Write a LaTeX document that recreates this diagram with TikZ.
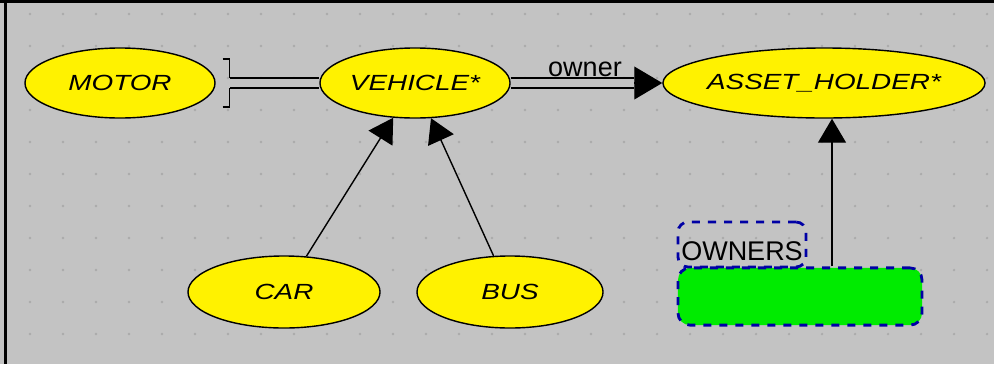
\documentclass[tikz,border=0pt]{standalone}
\usepackage{fontspec}
\setmainfont{Liberation Sans}
\newfontfamily\entityfont[FakeStretch=1.27]{Liberation Sans}
\usetikzlibrary{shapes.geometric,arrows.meta,calc}
\definecolor{panelgrey}{RGB}{195,195,195}
\definecolor{gridgrey}{RGB}{170,170,170}
\definecolor{clustergreen}{RGB}{0,235,0}
\definecolor{selblue}{RGB}{0,0,165}
\newcommand{\ename}[1]{\makebox[0pt]{#1}}

\begin{document}
\begin{tikzpicture}[x=0.025cm,y=-0.025cm,
    entity/.style={ellipse,draw,fill=yellow,line width=1pt,inner sep=0pt,
      minimum height=1.75cm,font=\entityfont\itshape\fontsize{15.6}{18}\selectfont},
    link/.style={line width=1pt},
    dbllink/.style={line width=1pt,double=panelgrey,double distance=0.21cm},
    sel/.style={draw=selblue,line width=2pt,dash pattern=on 0.2cm off 0.2cm,rounded corners=0.3cm},
    tag/.style={inner sep=0pt,font=\fontsize{19.2}{22}\selectfont},
    >={Triangle[length=0.6cm,width=0.7cm]}]
  \useasboundingbox (0,0) rectangle (994,364);
  \fill[panelgrey] (0,0) rectangle (994,364);
  \foreach \i in {0,...,29}
    \foreach \j in {0,...,10}
      \fill[gridgrey] (30+33*\i,14+32*\j) circle (0.9pt);
  \draw[line width=0.075cm] (0,1.5) -- (994,1.5);
  \draw[line width=0.075cm] (5.5,0) -- (5.5,364);

  % classes
  \node[entity,minimum width=4.75cm] (motor) at (120,83) {\ename{MOTOR}};
  \node[entity,minimum width=4.75cm] (vehicle) at (415,83) {\ename{VEHICLE*}};
  \node[entity,minimum width=8.05cm] (holder) at (824,83) {\ename{ASSET\_HOLDER*}};
  \node[entity,minimum width=4.8cm,minimum height=1.8cm] (car) at (284,292) {\ename{CAR}};
  \node[entity,minimum width=4.65cm,minimum height=1.8cm] (bus) at (510,292) {\ename{BUS}};

  % cluster
  \node[fill=clustergreen,sel,minimum width=6.1cm,minimum height=1.43cm,inner sep=0pt] (owners) at (800,296.5) {};
  \node[tag,sel,rounded corners=0.25cm,minimum width=3.2cm,inner ysep=0.1cm,
    text height=0.85cm,text depth=0.075cm,anchor=base] (ownerstag) at (742,260) {OWNERS};

  % client link
  \coordinate (bracket) at ($(motor.east)+(14,0)$);
  \draw[dbllink] (bracket) -- (vehicle.west);
  \draw[link] (bracket) ++(-7,-24) -- ++(7,0) -- ++(0,19);
  \draw[link] (bracket) ++(-7,24) -- ++(7,0) -- ++(0,-19);

  % owner link
  \coordinate (ownerbase) at ($(holder.west)+(-28,0)$);
  \draw[dbllink] (vehicle.east) -- (ownerbase);
  \draw[link,-{Triangle[length=0.7cm,width=0.82cm]}] (ownerbase) -- (holder.west);
  \node[tag,anchor=base] (ownerlbl) at (585,76) {owner};

  % inheritance
  \draw[link,->] (car) -- (vehicle);
  \draw[link,->] (bus) -- (vehicle);
  \coordinate (ownersjoin) at ($(owners.north)+(32,0)$);
  \draw[link,->] (ownersjoin) -- (ownersjoin |- holder.south);
\end{tikzpicture}
\end{document}
